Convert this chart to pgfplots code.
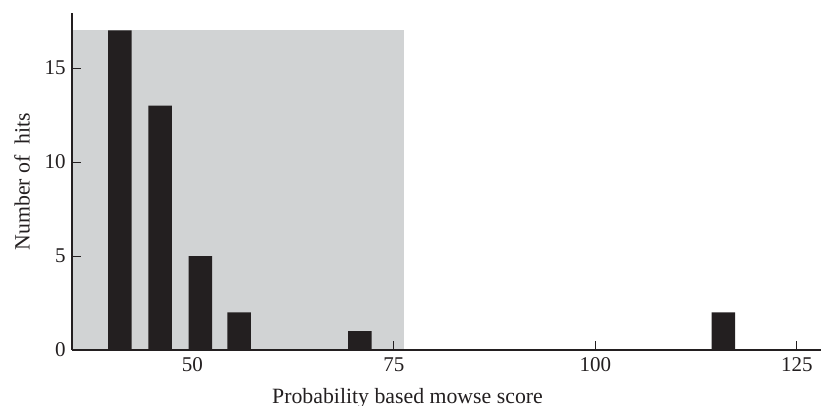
\documentclass[border=0pt]{standalone}
\usepackage{fontspec}
\setmainfont{Liberation Serif}
\usepackage{pgfplots}
\pgfplotsset{compat=1.18}
\definecolor{shade}{HTML}{D1D3D4}
\definecolor{barc}{HTML}{231F20}
\begin{document}
\fontsize{10.5}{12}\selectfont
\begin{tikzpicture}
\useasboundingbox (-36pt,-28pt) rectangle (374.5pt,175pt);
\begin{axis}[
  at={(0,0)}, anchor=south west,
  scale only axis,
  width=374.5pt, height=168.5pt,
  xmin=35.07, xmax=128, ymin=0, ymax=17.93,
  axis x line*=bottom, axis y line*=left,
  every outer x axis line/.append style={-},
  every outer y axis line/.append style={-},
  axis line style={-, line width=0.6pt, color=barc},
  xtick={50,75,100,125}, ytick={0,5,10,15},
  tick align=inside, major tick length=4.5pt,
  tick style={line width=0.5pt, color=barc},
  /pgf/number format/assume math mode=true,
  ticklabel style={font=\fontsize{10.5}{12}\selectfont, text=barc},
  yticklabel style={xshift=0.5pt},
  axis on top,
  clip=false,
  xlabel={Probability based mowse score},
  ylabel={Number of\hspace{0.5em}hits},
  every axis x label/.style={at={(axis cs:76.7,0)}, anchor=base, yshift=-27pt, font=\fontsize{10.9}{12}\selectfont, text=barc},
  every axis y label/.style={at={(axis description cs:-0.0668,0.5)}, rotate=90, anchor=center, font=\fontsize{10.9}{12}\selectfont, text=barc},
]
\addplot[fill=shade, draw=none] coordinates {(35.07,0) (76.27,0) (76.27,17) (35.07,17)} -- cycle;
\addplot[ybar, bar width=11.75pt, bar shift=0pt, fill=barc, draw=none] coordinates {
  (41,17) (46,13) (51,5) (55.8,2) (70.8,1) (115.9,2)
};
\end{axis}
\end{tikzpicture}
\end{document}
